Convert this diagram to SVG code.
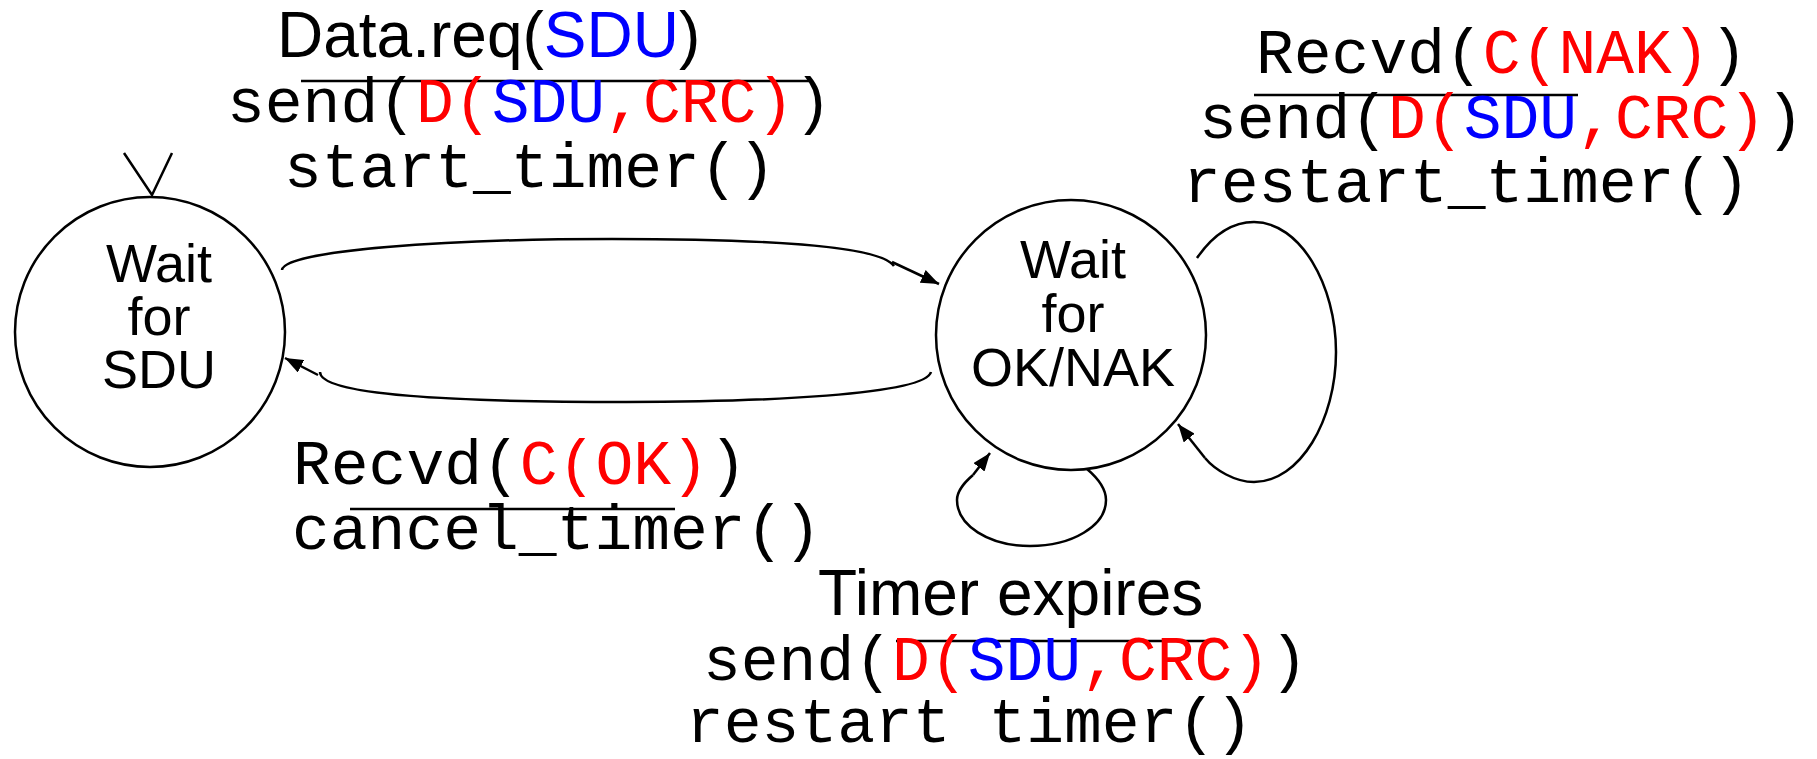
<svg xmlns="http://www.w3.org/2000/svg" width="1817" height="759" viewBox="0 0 1817 759">
  <defs>
    <marker id="arrow" markerUnits="userSpaceOnUse" markerWidth="20" markerHeight="14" refX="18" refY="7" orient="auto">
      <path d="M0,0 L18,7 L0,14 Z" fill="#000"/>
    </marker>
    <style>
      .state { fill: #fff; stroke: #000; stroke-width: 2.5; }
      .edge { fill: none; stroke: #000; stroke-width: 2.5; }
      .bar { stroke: #000; stroke-width: 2.5; }
      .sans { font-family: "Liberation Sans", Arial, sans-serif; fill: #000; }
      .mono { font-family: "Liberation Mono", "Courier New", monospace; font-size: 63px; fill: #000; }
      .label { font-size: 54px; text-anchor: middle; }
      .event { font-size: 64px; }
      .r { fill: #ff0000; }
      .b { fill: #0000ff; }
    </style>
  </defs>

  <!-- states -->
  <g id="wait-sdu">
    <circle class="state" cx="150" cy="332" r="135"/>
    <text class="sans label"><tspan x="159" y="282">Wait</tspan><tspan x="159" y="335">for</tspan><tspan x="159" y="388">SDU</tspan></text>
  </g>
  <g id="wait-ok-nak">
    <circle class="state" cx="1071" cy="335" r="135"/>
    <text class="sans label"><tspan x="1073" y="278">Wait</tspan><tspan x="1073" y="332">for</tspan><tspan x="1073" y="386">OK/NAK</tspan></text>
  </g>

  <!-- transitions -->
  <g id="connectors">
    <!-- initial state mark -->
    <path class="edge" d="M124 153 L152 195 L172 153" stroke-width="4"/>
    <!-- Data.req: Wait for SDU -> Wait for OK/NAK -->
    <path class="edge" d="M282 270 C284 250, 450 239, 612 239 C760 239, 880 245, 894 266"/>
    <path class="edge" d="M892 262 L939 284" marker-end="url(#arrow)"/>
    <!-- Recvd OK: back to Wait for SDU -->
    <path class="edge" d="M931 372 C925 395, 760 402, 626 402 C450 402, 320 395, 320 372"/>
    <path class="edge" d="M318 375 L285 358" marker-end="url(#arrow)"/>
    <!-- Recvd NAK: self loop -->
    <path class="edge" d="M1197 258 C1215 232, 1235 222, 1254 222 C1300 222, 1336 285, 1336 352 C1336 420, 1300 482, 1254 482 C1235 482, 1215 470, 1205 458"/>
    <path class="edge" d="M1205 458 L1178 424" marker-end="url(#arrow)"/>
    <!-- Timer expires: self loop -->
    <path class="edge" d="M1087 469 C1100 480, 1106 490, 1106 500 C1106 526, 1072 546, 1030 546 C988 546, 957 525, 957 500 C957 490, 965 482, 973 475"/>
    <path class="edge" d="M973 475 L990 453" marker-end="url(#arrow)"/>
  </g>

  <!-- transition labels -->
  <g id="label-data-req">
    <text class="sans event" x="277" y="57">Data.req(<tspan class="b">SDU</tspan>)</text>
    <line class="bar" x1="301" y1="81" x2="809" y2="81"/>
    <text class="mono" x="227" y="122">send(<tspan class="r">D(</tspan><tspan class="b">SDU</tspan><tspan class="r">,CRC)</tspan>)</text>
    <text class="mono" x="284" y="187">start_timer()</text>
  </g>
  <g id="label-nak">
    <text class="mono" x="1256" y="73">Recvd(<tspan class="r">C(NAK)</tspan>)</text>
    <line class="bar" x1="1254" y1="95" x2="1578" y2="95"/>
    <text class="mono" x="1199" y="138">send(<tspan class="r">D(</tspan><tspan class="b">SDU</tspan><tspan class="r">,CRC)</tspan>)</text>
    <text class="mono" x="1183" y="202">restart_timer()</text>
  </g>
  <g id="label-ok">
    <text class="mono" x="293" y="484">Recvd(<tspan class="r">C(OK)</tspan>)</text>
    <line class="bar" x1="350" y1="509" x2="675" y2="509"/>
    <text class="mono" x="292" y="549">cancel_timer()</text>
  </g>
  <g id="label-timeout">
    <text class="sans event" x="818" y="615">Timer expires</text>
    <line class="bar" x1="896" y1="641" x2="1221" y2="641"/>
    <text class="mono" x="703" y="680">send(<tspan class="r">D(</tspan><tspan class="b">SDU</tspan><tspan class="r">,CRC)</tspan>)</text>
    <text class="mono" x="686" y="742">restart timer()</text>
  </g>
</svg>
